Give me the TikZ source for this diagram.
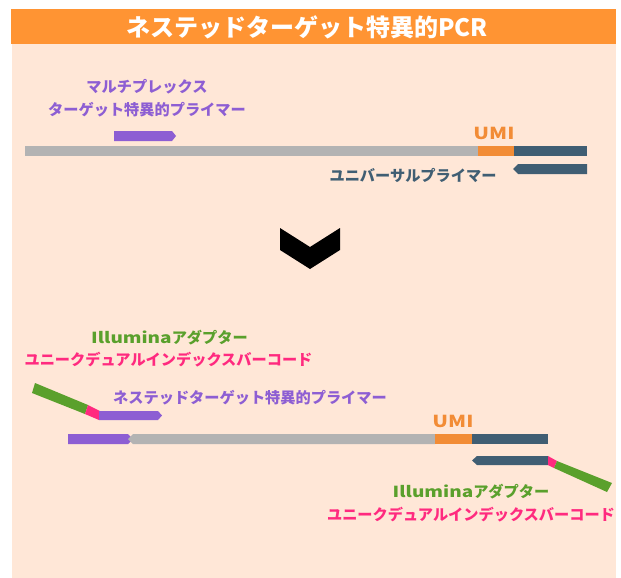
\documentclass[tikz,border=0pt]{standalone}
\usepackage{fontspec}
\newfontfamily\jp{Noto Sans CJK JP}
\newfontfamily\latn{Noto Sans CJK JP}[FakeStretch=1.25]
\definecolor{barorange}{RGB}{255,148,51}
\definecolor{peach}{RGB}{255,231,215}
\definecolor{prim}{RGB}{141,94,211}
\definecolor{tmpl}{RGB}{179,179,179}
\definecolor{umi}{RGB}{242,140,54}
\definecolor{navy}{RGB}{64,94,115}
\definecolor{ilgreen}{RGB}{90,160,44}
\definecolor{udipink}{RGB}{255,42,127}
\begin{document}
\begin{tikzpicture}[x=1pt,y=-1pt,
  lbl/.style={inner sep=0pt,font=\jp\bfseries\fontsize{15.2}{18}\selectfont,anchor=center},
  umilbl/.style={inner sep=0pt,font=\latn\bfseries\fontsize{16.5}{18}\selectfont,text=umi,anchor=center},
  ttl/.style={inner sep=0pt,font=\jp\bfseries\fontsize{24}{28}\selectfont,text=white,anchor=center}]
\useasboundingbox (0,0) rectangle (621,578);
% background
\fill[peach] (12,44) rectangle (616,578);
\fill[barorange] (11,9) rectangle (616,44);
\node[ttl] (title) at (307,27) {ネステッドターゲット特異的PCR};

% ---------- top diagram ----------
\node[lbl,text=prim,align=center] (mplabel) at (147,98.5) {マルチプレックス\\[5pt]ターゲット特異的プライマー};
\fill[prim] (114,131) -- (172,131) -- (176,136) -- (172,141) -- (114,141) -- cycle;
\fill[tmpl] (25,146) rectangle (478,156);
\fill[umi] (478,146) rectangle (514,156);
\fill[navy] (514,146) rectangle (587,156);
\node[umilbl] (umi1) at (494,133) {UMI};
\fill[navy] (587,164) -- (518,164) -- (513,169) -- (518,174) -- (587,174) -- cycle;
\node[lbl,text=navy] (univ) at (413,175.5) {ユニバーサルプライマー};

% chevron
\fill[black] (280,228) -- (310,247) -- (340,228) -- (340,250) -- (310,269) -- (280,250) -- cycle;

% ---------- bottom diagram ----------
\node[lbl,text=ilgreen] (ill1) at (169.5,337.5) {{\latn Illumina}アダプター};
\node[lbl,text=udipink] (udi1) at (168.5,360) {ユニークデュアルインデックスバーコード};
\node[lbl,text=prim] (nest) at (250,398) {ネステッドターゲット特異的プライマー};
% left adapter + nested primer
\fill[ilgreen] (35,383) -- (88,405) -- (85,414) -- (32,393) -- cycle;
\fill[udipink] (88,405) -- (100,411) -- (99,420) -- (85,414) -- cycle;
\fill[prim] (99,411) -- (158,411) -- (162,415.5) -- (158,420) -- (99,420) -- cycle;
% template
\fill[prim] (68,434) -- (128,434) -- (133,439) -- (128,444) -- (68,444) -- cycle;
\fill[tmpl] (133,434) -- (435,434) -- (435,444) -- (133,444) -- (128,439) -- cycle;
\fill[umi] (435,434) rectangle (472,444);
\fill[navy] (472,434) rectangle (548,444);
\node[umilbl] (umi2) at (453,421) {UMI};
% reverse primer + adapter
\fill[navy] (548,456) -- (477,456) -- (472,460.5) -- (477,465) -- (548,465) -- cycle;
\fill[udipink] (548,456) -- (557,461) -- (554,468) -- (548,465) -- cycle;
\fill[ilgreen] (557,461) -- (612,483) -- (607,492) -- (554,468) -- cycle;
\node[lbl,text=ilgreen] (ill2) at (471,492) {{\latn Illumina}アダプター};
\node[lbl,text=udipink] (udi2) at (471,515) {ユニークデュアルインデックスバーコード};
\end{tikzpicture}
\end{document}
